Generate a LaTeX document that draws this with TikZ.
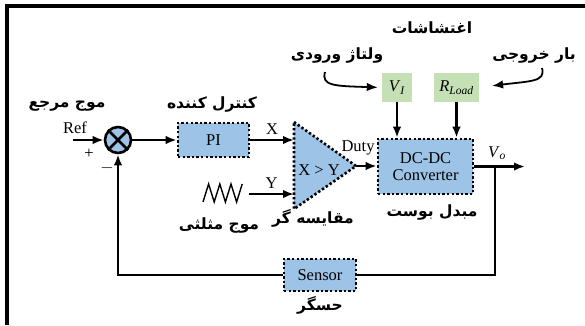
\documentclass[tikz,border=0pt]{standalone}
\usepackage{fontspec}
\setmainfont{Liberation Serif}
\newfontfamily\fafont[Script=Arabic]{DejaVu Sans}
\TeXXeTstate=1
\usetikzlibrary{arrows.meta}
\definecolor{blockblue}{RGB}{157,195,230}
\definecolor{distgreen}{RGB}{197,224,180}
\tikzset{
  blk/.style={draw, fill=blockblue, line width=2.6pt,
    dash pattern=on 2.4pt off 2.2pt, inner sep=0pt, align=center},
  dist/.style={fill=distgreen, inner sep=0pt, minimum height=29pt},
  sig/.style={line width=2.3pt, -{Latex[length=11pt,width=8.5pt]}},
  wire/.style={line width=2.3pt},
  falabel/.style={font=\fafont\bfseries\fontsize{15.5}{18}\selectfont},
}

\begin{document}
\begin{tikzpicture}[x=1pt,y=-1pt,font=\fontsize{16.5}{19}\selectfont]
\useasboundingbox (0,0) rectangle (585,325);
% frame
\draw[line width=4pt] (7,325) -- (7,5.5) -- (585,5.5);
% blocks
\node[draw, circle, fill=blockblue, line width=2.6pt, minimum size=26pt, inner sep=0pt]
  (sum) at (118,140) {};
\draw[line width=2.6pt] (sum.north west) -- (sum.south east)
  (sum.north east) -- (sum.south west);
\node[blk, minimum width=71pt, minimum height=34pt] (pi) at (213.5,140) {PI};
\draw[blk]
  (294,122) coordinate (cmptop) --
  (356,166) coordinate (cmpout) --
  (294,209) coordinate (cmpbot) -- cycle;
\node (cmp) at (319,170) {X > Y};
\coordinate (cmpx) at (294,140);
\coordinate (cmpy) at (294,194);
\node[blk, minimum width=95pt, minimum height=55pt] (conv) at (425.5,166.5)
  {DC-DC\\[-2pt]Converter};
\node[dist, minimum width=30pt] (vi) at (397,87.5)
  {\textit{V}\textsubscript{\textit{I}}};
\node[dist, minimum width=45pt] (rload) at (456.5,87.5)
  {\textit{R}\textsubscript{\textit{Load}}};
\node[blk, minimum width=72pt, minimum height=32pt] (sensor) at (320,275) {Sensor};
% triangle wave
\draw[line width=1.4pt, line join=miter]
  (203,202) -- (208.6,184) -- (214.2,202) -- (219.8,184) -- (225.4,202)
  -- (231,184) -- (236.6,202) -- (242.2,184) coordinate (tri);
% signals
\coordinate (refin) at (73,140);
\draw[sig] (refin) -- (sum);
\draw[sig] (sum) -- (pi);
\draw[sig] (pi) -- (cmpx) node[midway, above=1pt] {X};
\draw[sig] (249,194) coordinate (trisrc) -- (cmpy) node[midway, above=1pt] {Y};
\draw[sig] (cmpout) -- (conv.west |- cmpout);
\draw[sig] (vi) -- (vi |- conv.north);
\draw[sig] (rload) -- (rload |- conv.north);
\coordinate (vout) at (525,166.5);
\coordinate (tap) at (495,166.5);
\draw[sig] (conv.east |- vout) -- (vout);
\draw[wire] (tap) |- (sensor.east);
\draw[sig] (sensor.west) -| (sum.south);
% disturbance arrows
\coordinate (vihook) at (325,72);
\coordinate (rhook) at (542,68);
\draw[sig, line width=1.8pt, shorten >=4pt]
  (vihook) .. controls (321,86) and (335,86) .. (vi.west);
\draw[sig, line width=1.8pt, shorten >=13pt]
  (rhook) .. controls (546,82) and (530,81) .. (rload.east);
% labels
\node at (75,128) {Ref};
\node at (89,154) {+};
\node at (107,168) {$-$};
\node at (358,148) {Duty};
\node at (497,153) {\textit{V}\textsubscript{\textit{o}}};
\node[falabel] (lref) at (67,106) {\beginR موج مرجع\endR};
\node[falabel] (lpi) at (212,104) {\beginR کنترل کننده\endR};
\node[falabel] (ldist) at (432,28) {\beginR اغتشاشات\endR};
\node[falabel] (lvi) at (337,55) {\beginR ولتاژ ورودی\endR};
\node[falabel] (lrl) at (534,55) {\beginR بار خروجی\endR};
\node[falabel] (lcmp) at (313,218) {\beginR مقایسه گر\endR};
\node[falabel] (ltri) at (219,225) {\beginR موج مثلثی\endR};
\node[falabel] (lconv) at (432,212) {\beginR مبدل بوست\endR};
\node[falabel] (lsens) at (320,305) {\beginR حسگر\endR};
\end{tikzpicture}
\end{document}
